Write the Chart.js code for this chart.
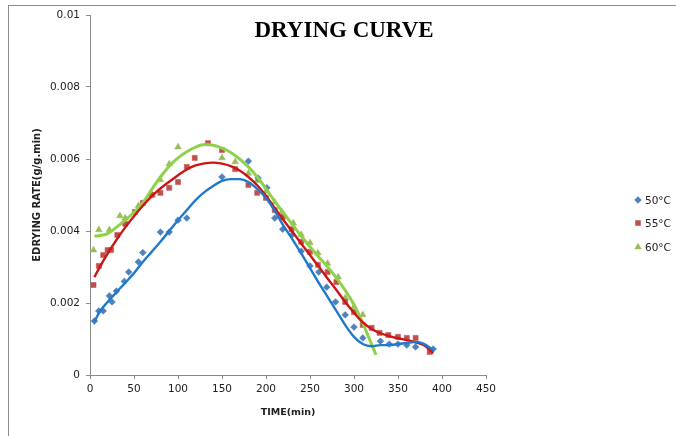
<!DOCTYPE html>
<html>
<head>
<meta charset="utf-8">
<script src="https://cdn.jsdelivr.net/npm/chart.js@4/dist/chart.umd.min.js"></script>
<style>
  html, body { margin: 0; padding: 0; background: #fff; }
  #wrap { position: relative; width: 676px; height: 436px; overflow: hidden; }
  #frame { position: absolute; left: 8px; top: 5px; right: -2px; bottom: -2px;
           border-left: 1px solid #8a8a8a; border-top: 1px solid #8a8a8a; pointer-events: none; }
  canvas { position: absolute; left: 0; top: 0; }
</style>
</head>
<body>
<div id="wrap">
  <canvas id="c" width="676" height="436"></canvas>
  <div id="frame"></div>
</div>
<script>
// Measured drying rates (g/g.min) against time (min)
const t50 = [5, 10, 15, 22, 25, 30, 39, 44, 55, 60, 80, 90, 100, 110, 150, 180, 191, 201, 210, 219, 230, 240, 250, 260, 269, 279, 290, 300, 310, 330, 340, 350, 360, 370, 390];
const rate50 = [0.0015, 0.00178, 0.00178, 0.0022, 0.00203, 0.00233, 0.0026, 0.00286, 0.00314, 0.0034, 0.00397, 0.00397, 0.0043, 0.00436, 0.0055, 0.00594, 0.00547, 0.0052, 0.00436, 0.00405, 0.0039, 0.00344, 0.00303, 0.00286, 0.00244, 0.00203, 0.00167, 0.00133, 0.00103, 0.00094, 0.00086, 0.00086, 0.00083, 0.00078, 0.00072];

const t55 = [4, 10, 15, 20, 24, 31, 40, 51, 60, 70, 80, 90, 100, 110, 119, 134, 150, 165, 180, 190, 200, 210, 219, 229, 240, 250, 259, 270, 280, 290, 300, 310, 320, 329, 339, 350, 360, 370, 386];
const rate55 = [0.0025, 0.00303, 0.00333, 0.00347, 0.00347, 0.00389, 0.0042, 0.00453, 0.00478, 0.005, 0.00506, 0.0052, 0.00536, 0.00578, 0.00603, 0.00644, 0.00625, 0.00572, 0.00528, 0.00506, 0.00492, 0.00458, 0.00439, 0.00405, 0.0037, 0.00342, 0.00306, 0.00286, 0.00258, 0.00203, 0.00175, 0.00139, 0.00131, 0.00117, 0.00111, 0.00106, 0.00103, 0.00103, 0.00064];

const t60 = [4, 10, 22, 34, 40, 55, 71, 80, 90, 100, 150, 165, 180, 190, 200, 210, 218, 231, 240, 250, 259, 270, 282, 290, 300, 310];
const rate60 = [0.00347, 0.00403, 0.00403, 0.00442, 0.00436, 0.0047, 0.005, 0.00542, 0.00586, 0.00633, 0.00603, 0.00592, 0.0056, 0.0054, 0.0051, 0.0048, 0.00453, 0.00422, 0.0039, 0.00367, 0.00339, 0.0031, 0.00272, 0.00214, 0.0019, 0.00167];

// Smoothed trend curves
const fitT50 = [5, 10, 20, 30, 40, 50, 60, 70, 80, 90, 100, 110, 120, 130, 140, 150, 160, 170, 180, 190, 200, 210, 220, 230, 240, 250, 260, 270, 280, 290, 300, 310, 320, 330, 340, 350, 360, 370, 380, 390];
const fit50 = [0.00147, 0.00172, 0.00203, 0.0023, 0.00256, 0.00283, 0.00314, 0.00342, 0.0037, 0.004, 0.0043, 0.00458, 0.00486, 0.00508, 0.00525, 0.00539, 0.00544, 0.00544, 0.00536, 0.00517, 0.00492, 0.00456, 0.00414, 0.00377, 0.00338, 0.00297, 0.00256, 0.00217, 0.00178, 0.00139, 0.00106, 0.00086, 0.0008, 0.00083, 0.00083, 0.00086, 0.00089, 0.00092, 0.00086, 0.00069];

const fitT55 = [5, 10, 20, 30, 40, 50, 60, 70, 80, 90, 100, 110, 120, 130, 140, 150, 160, 170, 180, 190, 200, 210, 220, 230, 240, 250, 260, 270, 280, 290, 300, 310, 320, 330, 340, 350, 360, 370, 380, 390];
const fit55 = [0.00272, 0.00295, 0.00337, 0.00375, 0.0041, 0.00441, 0.0047, 0.00496, 0.00518, 0.00537, 0.00555, 0.00571, 0.00582, 0.00588, 0.0059, 0.00587, 0.0058, 0.00568, 0.0055, 0.00527, 0.00498, 0.00463, 0.0043, 0.00398, 0.00365, 0.00333, 0.00301, 0.00268, 0.00236, 0.00203, 0.00173, 0.00146, 0.00128, 0.00116, 0.00108, 0.00102, 0.00097, 0.00091, 0.00082, 0.00061];

const fitT60 = [5, 10, 20, 30, 40, 50, 60, 70, 80, 90, 100, 110, 120, 130, 140, 150, 160, 170, 180, 190, 200, 210, 220, 230, 240, 250, 260, 270, 280, 290, 300, 310, 320, 325];
const fit60 = [0.00386, 0.00387, 0.00393, 0.0041, 0.0043, 0.00452, 0.00478, 0.00515, 0.0055, 0.0058, 0.00603, 0.0062, 0.00633, 0.0064, 0.00638, 0.0063, 0.00618, 0.006, 0.00578, 0.0055, 0.00518, 0.00482, 0.0045, 0.00418, 0.00386, 0.00356, 0.00328, 0.003, 0.0027, 0.00235, 0.00195, 0.00144, 0.00085, 0.00056];

const seriesNames = ['50\u00B0C', '55\u00B0C', '60\u00B0C'];
const xTickLabels = ['0', '50', '100', '150', '200', '250', '300', '350', '400', '450'];
const yTickLabels = ['0', '0.002', '0.004', '0.006', '0.008', '0.01'];
const chartTitle = 'DRYING CURVE';
const xTitle = 'TIME(min)';
const yTitle = 'EDRYING RATE(g/g.min)';

const pts = (xs, ys) => xs.map((x, i) => ({ x: x, y: ys[i] }));

const markerStyles = [
  { pointStyle: 'rectRot',  color: '#4F81BD', radius: 3.4 },
  { pointStyle: 'rect',     color: '#C0504D', radius: 3.6 },
  { pointStyle: 'triangle', color: '#9BBB59', radius: 3.8 }
];
const trendColors = ['#1F7ACD', '#CC1616', '#8FD14A'];

function trend(xs, ys, color, width) {
  return {
    type: 'line', data: pts(xs, ys), borderColor: color, borderWidth: width,
    pointRadius: 0, fill: false, cubicInterpolationMode: 'monotone', isTrend: true
  };
}
function markers(xs, ys, i) {
  const m = markerStyles[i];
  return {
    type: 'scatter', label: seriesNames[i], data: pts(xs, ys), showLine: false,
    pointStyle: m.pointStyle, pointRadius: m.radius, pointBackgroundColor: m.color,
    pointBorderColor: m.color, pointBorderWidth: 0.5, backgroundColor: m.color, borderColor: m.color
  };
}

// Title and legend drawn next to the plot area
const decorations = {
  id: 'decorations',
  afterDraw(chart) {
    const { ctx, chartArea: a } = chart;
    ctx.save();
    ctx.fillStyle = '#000';
    ctx.font = 'bold 23px "Liberation Serif", "Times New Roman", serif';
    ctx.textAlign = 'center';
    ctx.textBaseline = 'middle';
    ctx.fillText(chartTitle, a.left + 254, a.top + 16);

    ctx.font = '10.5px "DejaVu Sans", sans-serif';
    ctx.textAlign = 'left';
    const rows = [200, 223, 247];
    seriesNames.forEach((name, i) => {
      const m = markerStyles[i];
      const y = rows[i];
      ctx.fillStyle = m.color;
      ctx.strokeStyle = m.color;
      ctx.lineWidth = 0.5;
      Chart.helpers.drawPoint(ctx, { pointStyle: m.pointStyle, radius: m.radius, rotation: 0, borderWidth: 0.5 }, a.right + 152, y);
      ctx.fillStyle = '#222';
      ctx.fillText(name, a.right + 159, y + 1);
    });
    ctx.restore();
  }
};

const axisGray = '#8a8a8a';
new Chart(document.getElementById('c'), {
  data: {
    datasets: [
      trend(fitT50, fit50, trendColors[0], 2.4),
      trend(fitT55, fit55, trendColors[1], 2.4),
      trend(fitT60, fit60, trendColors[2], 3),
      markers(t50, rate50, 0),
      markers(t55, rate55, 1),
      markers(t60, rate60, 2)
    ]
  },
  options: {
    responsive: false,
    animation: false,
    events: [],
    layout: { padding: { left: 25, top: 15, right: 190, bottom: 10 } },
    plugins: { legend: { display: false }, title: { display: false }, tooltip: { enabled: false } },
    scales: {
      x: {
        type: 'linear', min: 0, max: 450,
        afterFit: s => { s.height = 51; },
        ticks: { stepSize: 50, color: '#222', padding: 4, maxRotation: 0,
                 font: { family: '"DejaVu Sans", sans-serif', size: 10.5 },
                 callback: (v, i) => xTickLabels[i] },
        grid: { drawOnChartArea: false, drawTicks: true, tickLength: 4, color: axisGray },
        border: { display: true, color: axisGray, width: 1 },
        title: { display: true, text: xTitle, color: '#222', padding: { top: 0, bottom: 8 },
                 font: { family: '"DejaVu Sans", sans-serif', size: 9.5, weight: 'bold' } }
      },
      y: {
        type: 'linear', min: 0, max: 0.01,
        afterFit: s => { s.width = 65; },
        ticks: { stepSize: 0.002, color: '#222', padding: 6,
                 font: { family: '"DejaVu Sans", sans-serif', size: 10.5 },
                 callback: (v, i) => yTickLabels[i] },
        grid: { drawOnChartArea: false, drawTicks: true, tickLength: 4, color: axisGray },
        border: { display: true, color: axisGray, width: 1 },
        title: { display: true, text: yTitle, color: '#222', padding: { top: 6, bottom: 0 },
                 font: { family: '"DejaVu Sans", sans-serif', size: 10, weight: 'bold' } }
      }
    }
  },
  plugins: [decorations]
});
</script>
</body>
</html>
